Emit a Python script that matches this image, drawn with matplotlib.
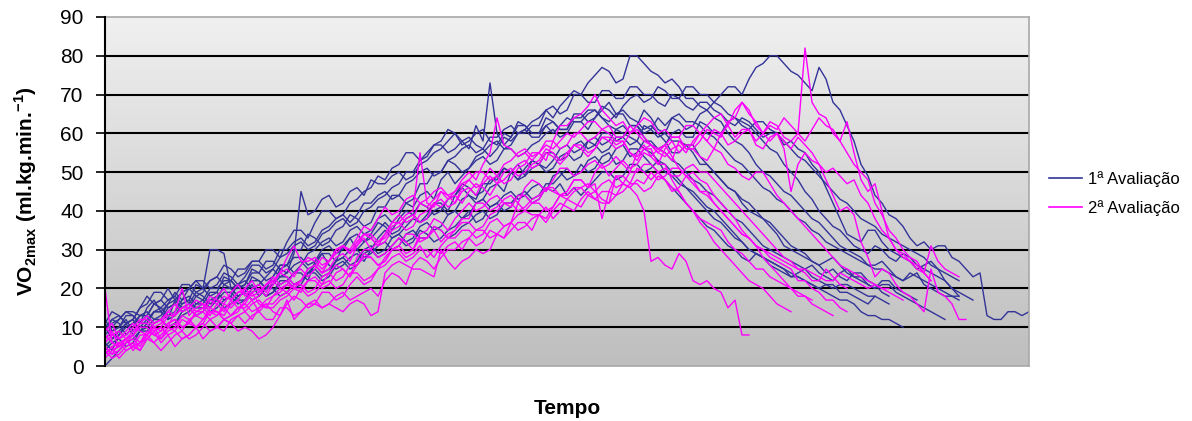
import numpy as np
import matplotlib
matplotlib.use("Agg")
import matplotlib.pyplot as plt
from matplotlib.colors import LinearSegmentedColormap
from matplotlib.lines import Line2D

plt.rcParams['font.family'] = ['Liberation Sans', 'DejaVu Sans']
plt.rcParams['mathtext.fontset'] = 'custom'
plt.rcParams['mathtext.rm'] = 'Liberation Sans'
plt.rcParams['mathtext.bf'] = 'Liberation Sans:bold'

# -----------------------------------------------------------------------------
# VO2 readings per sample (one list per subject)
blue_1 = [9, 12, 11, 8, 10, 13, 14, 12, 13, 16,
          17, 15, 16, 19, 18, 16, 17, 21, 20, 18,
          19, 23, 22, 20, 21, 25, 24, 26, 27, 25,
          26, 29, 29, 27, 31, 33, 30, 32, 34, 37,
          36, 34, 35, 38, 39, 42, 41, 39, 40, 43,
          44, 47, 46, 44, 45, 48, 48, 51, 50, 48,
          49, 53, 52, 50, 51, 54, 55, 53, 54, 58,
          57, 55, 56, 59, 59, 57, 58, 62, 61, 59,
          60, 64, 63, 61, 62, 65, 66, 68, 70, 72,
          72, 70, 74, 77, 78, 80, 80, 78, 76, 75,
          73, 71, 77, 74, 68, 66, 62, 58, 52, 49,
          44, 42, 39, 38, 36, 33, 31, 32, 30, 31,
          31, 28, 27, 25, 23, 24, 13, 12, 12, 14,
          14, 13, 14]
blue_2 = [6, 4, 8, 11, 12, 9, 11, 14, 15, 17,
          18, 16, 17, 21, 20, 18, 19, 23, 22, 20,
          21, 25, 24, 27, 27, 25, 26, 30, 30, 34,
          33, 31, 32, 35, 36, 39, 38, 36, 37, 41,
          41, 44, 44, 42, 43, 47, 47, 50, 50, 53,
          52, 50, 51, 54, 55, 57, 58, 56, 57, 60,
          60, 62, 62, 66, 64, 67, 69, 71, 70, 73,
          75, 77, 76, 73, 74, 80, 80, 78, 76, 75,
          73, 74, 72, 69, 69, 67, 66, 64, 63, 60,
          58, 57, 55, 52, 50, 49, 47, 45, 44, 42,
          40, 38, 37, 35, 33, 31, 30, 29, 28, 26,
          26, 27, 25, 23, 22, 23, 24, 21, 20, 19,
          18, 18, 17]
blue_3 = [11, 14, 13, 11, 12, 15, 16, 19, 19, 17,
          18, 21, 21, 19, 20, 22, 23, 26, 25, 23,
          24, 27, 27, 30, 30, 28, 32, 35, 35, 33,
          37, 40, 40, 38, 39, 42, 43, 45, 46, 49,
          48, 51, 52, 55, 55, 53, 54, 57, 57, 55,
          56, 58, 56, 62, 58, 73, 60, 57, 59, 63,
          62, 60, 60, 64, 63, 61, 61, 64, 64, 66,
          66, 64, 63, 65, 65, 62, 62, 66, 64, 61,
          60, 58, 58, 57, 55, 52, 52, 50, 48, 46,
          45, 42, 40, 39, 38, 36, 34, 31, 30, 29,
          28, 27, 26, 24, 25, 23, 22, 24, 24, 22,
          21, 19, 18]
blue_4 = [8, 10, 12, 14, 13, 11, 15, 17, 14, 16,
          19, 17, 20, 22, 20, 30, 30, 29, 20, 21,
          22, 20, 21, 23, 25, 23, 24, 29, 45, 39,
          40, 43, 44, 41, 42, 45, 46, 44, 48, 47,
          47, 49, 50, 48, 49, 52, 53, 55, 56, 58,
          60, 57, 58, 60, 61, 58, 57, 60, 59, 62,
          62, 60, 60, 62, 63, 61, 61, 65, 65, 63,
          64, 66, 68, 65, 66, 64, 63, 61, 62, 60,
          58, 55, 55, 57, 57, 54, 52, 50, 48, 46,
          45, 43, 42, 40, 38, 37, 35, 33, 31, 30,
          29, 27, 26, 27, 28, 26, 24, 23, 22, 21,
          20, 22, 22, 20, 19, 18, 17]
blue_5 = [0, 2, 4, 6, 7, 9, 9, 11, 12, 10,
          11, 14, 15, 13, 14, 17, 17, 15, 16, 18,
          19, 17, 18, 20, 20, 18, 19, 21, 22, 24,
          24, 22, 23, 26, 27, 25, 26, 29, 30, 28,
          29, 31, 33, 31, 32, 35, 34, 32, 33, 35,
          36, 38, 40, 37, 38, 41, 42, 40, 41, 44,
          45, 43, 44, 47, 47, 49, 51, 49, 50, 53,
          54, 52, 53, 56, 57, 54, 55, 58, 58, 56,
          57, 60, 61, 59, 59, 63, 62, 60, 60, 63,
          64, 62, 61, 63, 63, 61, 60, 57, 58, 56,
          55, 52, 50, 46, 42, 38, 34, 33, 32, 35,
          35, 32, 30, 29, 28, 27, 25, 26, 27, 25,
          22, 20, 19, 18, 17]
blue_6 = [10, 7, 8, 10, 11, 13, 13, 11, 12, 15,
          16, 14, 15, 18, 17, 15, 17, 19, 19, 17,
          17, 19, 20, 18, 19, 21, 22, 20, 21, 24,
          25, 23, 24, 27, 28, 26, 27, 30, 31, 29,
          30, 33, 34, 32, 33, 36, 37, 35, 36, 39,
          40, 38, 39, 42, 43, 41, 42, 44, 45, 43,
          44, 46, 47, 45, 49, 50, 48, 49, 52, 50,
          51, 54, 55, 52, 53, 56, 56, 54, 52, 50,
          48, 46, 44, 42, 40, 38, 36, 35, 33, 31,
          30, 28, 27, 29, 28, 26, 25, 24, 23, 23,
          22, 21, 20, 19, 18, 17, 17, 16, 14, 13,
          13, 12, 12, 11, 10]
blue_7 = [5, 7, 9, 11, 8, 10, 12, 14, 14, 12,
          13, 16, 17, 15, 16, 19, 19, 17, 18, 21,
          20, 22, 22, 20, 23, 26, 26, 28, 28, 26,
          27, 30, 31, 29, 30, 33, 34, 32, 33, 35,
          37, 35, 38, 40, 39, 37, 39, 42, 42, 40,
          44, 46, 44, 43, 47, 47, 49, 51, 50, 48,
          51, 53, 52, 51, 53, 56, 57, 55, 56, 58,
          59, 57, 58, 61, 62, 60, 62, 59, 57, 56,
          55, 53, 52, 50, 48, 47, 45, 44, 42, 40,
          38, 37, 35, 33, 31, 30, 29, 28, 27, 26,
          25, 26, 24, 23, 22, 24, 25, 23, 23, 21,
          20, 21, 21, 19, 18, 17, 16, 15, 14, 13,
          12]
blue_8 = [7, 9, 10, 12, 9, 11, 13, 16, 15, 13,
          14, 17, 18, 16, 17, 20, 20, 22, 22, 20,
          21, 24, 24, 22, 23, 26, 26, 24, 26, 29,
          30, 32, 33, 31, 32, 35, 36, 34, 35, 38,
          39, 37, 39, 42, 41, 44, 45, 43, 48, 50,
          47, 49, 51, 53, 54, 52, 53, 56, 56, 54,
          55, 57, 58, 60, 61, 59, 60, 63, 63, 61,
          64, 67, 66, 64, 67, 69, 70, 68, 69, 72,
          71, 69, 69, 72, 72, 70, 70, 68, 67, 65,
          64, 63, 62, 60, 58, 56, 55, 52, 50, 48,
          45, 43, 40, 38, 36, 35, 33, 31, 30, 29,
          31, 30, 28, 27, 29, 28, 26, 25, 24, 23,
          22, 20, 18]
blue_9 = [12, 9, 10, 13, 13, 11, 11, 14, 14, 12,
          17, 19, 16, 15, 15, 17, 18, 20, 20, 18,
          19, 21, 18, 20, 21, 23, 23, 21, 22, 24,
          26, 24, 25, 27, 28, 30, 30, 28, 29, 31,
          32, 30, 31, 34, 35, 33, 33, 36, 35, 33,
          34, 36, 37, 39, 40, 38, 39, 42, 42, 44,
          44, 42, 43, 46, 45, 47, 44, 46, 44, 46,
          48, 50, 50, 48, 49, 52, 52, 50, 51, 53,
          50, 49, 47, 46, 44, 42, 40, 38, 37, 35,
          33, 32, 30, 29, 28, 27, 26, 25, 24, 23,
          22, 21, 20, 21, 21, 19, 19, 18, 17, 16,
          18, 17, 16]
blue_10 = [9, 11, 12, 14, 14, 13, 13, 16, 17, 15,
           16, 19, 20, 22, 22, 20, 21, 24, 23, 21,
           23, 26, 26, 24, 25, 28, 29, 31, 32, 30,
           31, 34, 35, 37, 38, 36, 37, 40, 41, 43,
           44, 46, 47, 50, 50, 53, 55, 57, 58, 61,
           60, 58, 59, 57, 56, 54, 56, 59, 58, 60,
           61, 59, 59, 62, 60, 62, 64, 63, 63, 65,
           66, 64, 62, 61, 60, 59, 58, 56, 55, 53,
           52, 50, 48, 46, 45, 43, 41, 40, 38, 36,
           34, 32, 30, 29, 28, 27, 26, 25, 23, 24,
           25, 23, 22, 21, 20, 21, 21, 20, 19, 18,
           18]
blue_11 = [4, 6, 7, 5, 6, 9, 10, 12, 12, 10,
           11, 13, 14, 16, 16, 14, 15, 17, 18, 16,
           17, 20, 20, 18, 19, 22, 22, 24, 24, 22,
           27, 29, 26, 25, 26, 28, 29, 27, 30, 33,
           35, 33, 34, 36, 38, 37, 38, 40, 41, 39,
           40, 43, 44, 42, 43, 46, 47, 45, 50, 52,
           49, 51, 52, 55, 55, 53, 54, 57, 58, 56,
           57, 60, 60, 58, 59, 62, 62, 60, 61, 64,
           62, 64, 65, 63, 63, 62, 60, 59, 57, 55,
           53, 52, 50, 48, 46, 45, 43, 42, 40, 38,
           37, 35, 34, 32, 31, 30, 29, 28, 27, 26,
           25, 25, 24, 23, 22, 24, 23, 22, 21, 20,
           19, 18, 18]
blue_12 = [10, 12, 13, 11, 12, 15, 18, 16, 17, 20,
           17, 19, 20, 18, 19, 22, 23, 21, 22, 25,
           25, 27, 27, 25, 26, 30, 30, 32, 33, 31,
           32, 35, 36, 38, 39, 37, 39, 42, 42, 44,
           45, 43, 44, 47, 48, 50, 51, 49, 50, 53,
           54, 56, 57, 55, 56, 59, 59, 61, 62, 60,
           61, 63, 64, 66, 67, 65, 66, 70, 70, 68,
           68, 71, 71, 69, 69, 72, 72, 70, 70, 68,
           67, 70, 69, 67, 66, 68, 68, 66, 65, 63,
           62, 64, 63, 61, 59, 60, 60, 58, 56, 54,
           53, 51, 49, 47, 45, 43, 42, 40, 38, 37,
           36, 34, 33, 32, 31, 30, 29, 28, 26, 25,
           24, 23, 22]

magenta_1 = [3, 5, 6, 4, 5, 8, 8, 10, 7, 9,
             10, 13, 12, 10, 11, 14, 14, 12, 13, 15,
             15, 17, 14, 16, 16, 18, 19, 21, 21, 19,
             20, 23, 24, 22, 23, 26, 26, 28, 28, 26,
             27, 30, 31, 29, 30, 33, 33, 35, 32, 34,
             35, 37, 37, 35, 36, 39, 40, 42, 42, 40,
             41, 43, 44, 46, 46, 44, 45, 48, 48, 46,
             50, 52, 49, 51, 53, 51, 52, 55, 54, 52,
             56, 58, 55, 57, 57, 60, 58, 56, 60, 62,
             59, 61, 61, 58, 60, 63, 62, 59, 58, 60,
             82, 68, 65, 64, 60, 58, 63, 55, 48, 45,
             47, 40, 33, 30, 29, 27, 26, 24, 31, 27,
             25, 24, 23]
magenta_2 = [8, 6, 5, 7, 9, 11, 11, 9, 10, 13,
             13, 15, 15, 13, 14, 17, 16, 14, 17, 19,
             19, 17, 18, 21, 23, 21, 22, 20, 22, 25,
             26, 24, 25, 28, 29, 27, 31, 33, 30, 32,
             34, 37, 37, 35, 36, 39, 40, 42, 43, 41,
             42, 45, 46, 44, 48, 51, 49, 47, 48, 51,
             52, 55, 55, 53, 58, 62, 62, 64, 65, 67,
             70, 66, 64, 62, 63, 60, 62, 64, 63, 60,
             61, 59, 59, 62, 62, 60, 58, 61, 60, 57,
             58, 60, 61, 57, 56, 59, 60, 58, 56, 59,
             57, 55, 52, 48, 44, 40, 41, 39, 32, 28,
             23, 25, 24, 21, 19, 18, 16, 14, 25, 19,
             18, 16, 12, 12]
magenta_3 = [5, 3, 4, 6, 7, 5, 8, 10, 9, 11,
             12, 10, 11, 14, 15, 13, 16, 18, 17, 15,
             16, 19, 20, 18, 21, 24, 23, 21, 22, 25,
             26, 24, 27, 30, 31, 29, 32, 34, 33, 31,
             32, 35, 36, 38, 39, 37, 38, 42, 41, 43,
             44, 42, 45, 47, 46, 44, 47, 50, 51, 49,
             50, 52, 53, 56, 55, 53, 55, 57, 57, 55,
             56, 59, 59, 57, 58, 55, 53, 56, 57, 55,
             54, 56, 57, 55, 58, 60, 62, 64, 65, 62,
             66, 68, 65, 63, 60, 62, 61, 64, 62, 60,
             58, 61, 64, 62, 61, 58, 55, 52, 50, 48,
             42, 39, 35, 33, 30, 28, 27, 24, 22]
magenta_4 = [20, 6, 5, 7, 4, 6, 7, 9, 6, 8,
             5, 7, 8, 10, 7, 9, 10, 12, 11, 9,
             10, 9, 7, 8, 10, 13, 17, 12, 14, 16,
             16, 15, 16, 15, 14, 16, 17, 16, 13, 14,
             24, 26, 27, 26, 25, 25, 24, 23, 30, 27,
             25, 27, 28, 30, 29, 30, 34, 33, 37, 42,
             40, 39, 39, 38, 41, 44, 43, 45, 46, 47,
             45, 43, 42, 49, 47, 46, 44, 40, 27, 28,
             26, 25, 29, 27, 22, 21, 22, 20, 19, 15,
             17, 8, 8]
magenta_5 = [6, 8, 9, 7, 8, 11, 13, 11, 12, 14,
             13, 15, 16, 14, 15, 18, 17, 16, 19, 21,
             18, 20, 21, 19, 22, 24, 25, 23, 26, 28,
             27, 25, 27, 30, 31, 29, 32, 34, 33, 31,
             34, 37, 39, 37, 38, 42, 41, 43, 45, 43,
             45, 48, 50, 48, 52, 55, 64, 57, 56, 54,
             55, 53, 55, 57, 56, 58, 60, 59, 61, 63,
             63, 61, 60, 58, 58, 55, 54, 56, 56, 52,
             52, 48, 45, 42, 40, 38, 37, 36, 35, 32,
             30, 29, 27, 25, 25, 23, 22, 21, 20, 18,
             18, 17]
magenta_6 = [2, 4, 5, 7, 8, 6, 9, 8, 7, 10,
             11, 9, 12, 13, 12, 15, 14, 13, 16, 17,
             14, 16, 17, 15, 18, 19, 21, 20, 19, 22,
             23, 21, 24, 26, 25, 23, 28, 30, 30, 28,
             29, 31, 33, 32, 30, 34, 35, 38, 37, 35,
             38, 40, 42, 40, 41, 43, 44, 42, 41, 44,
             44, 42, 43, 46, 45, 44, 45, 48, 48, 46,
             47, 38, 45, 49, 49, 47, 51, 50, 48, 50,
             48, 45, 46, 49, 48, 45, 45, 42, 40, 38,
             36, 34, 33, 31, 30, 28, 27, 26, 25, 22,
             22, 20, 19, 17, 17, 15, 14]
magenta_7 = [4, 2, 3, 5, 6, 4, 7, 9, 10, 8,
             9, 12, 11, 10, 12, 14, 14, 12, 13, 15,
             16, 14, 15, 17, 18, 20, 19, 17, 20, 22,
             22, 20, 21, 24, 25, 23, 26, 29, 28, 26,
             27, 30, 31, 34, 34, 32, 33, 36, 35, 33,
             35, 38, 38, 42, 42, 40, 41, 43, 44, 42,
             46, 48, 47, 45, 48, 51, 51, 49, 50, 52,
             53, 51, 52, 54, 52, 50, 55, 57, 54, 56,
             55, 53, 58, 56, 56, 54, 53, 56, 55, 52,
             51, 49, 48, 50, 50, 47, 44, 42, 40, 38,
             36, 34, 32, 30, 28, 26, 25, 24, 23, 22,
             21, 20, 19, 18, 17]
magenta_8 = [7, 9, 5, 6, 8, 10, 10, 8, 9, 11,
             12, 10, 11, 14, 14, 12, 13, 15, 13, 14,
             17, 19, 16, 15, 15, 17, 18, 20, 20, 18,
             19, 21, 22, 20, 21, 24, 24, 22, 23, 25,
             26, 28, 29, 27, 28, 30, 30, 28, 31, 33,
             33, 35, 35, 33, 34, 37, 38, 36, 37, 39,
             40, 42, 42, 40, 41, 44, 44, 46, 46, 44,
             45, 47, 48, 46, 47, 50, 50, 52, 52, 50,
             51, 49, 49, 51, 52, 50, 50, 48, 46, 44,
             42, 40, 38, 36, 34, 32, 30, 28, 27, 25,
             24, 22, 22, 25, 23, 21, 20]
magenta_9 = [9, 11, 7, 8, 10, 12, 12, 10, 11, 14,
             16, 14, 15, 17, 16, 15, 18, 20, 17, 19,
             20, 22, 19, 21, 22, 24, 28, 31, 27, 27,
             28, 26, 27, 30, 31, 29, 31, 34, 34, 32,
             33, 36, 37, 39, 40, 55, 42, 41, 45, 44,
             42, 46, 48, 46, 47, 49, 47, 48, 50, 52,
             53, 51, 52, 55, 54, 52, 54, 57, 56, 54,
             56, 59, 58, 56, 57, 60, 61, 59, 57, 56,
             57, 59, 59, 56, 56, 58, 61, 60, 59, 63,
             64, 68, 66, 62, 60, 58, 60, 56, 45, 52,
             55, 53, 52, 50, 51, 49, 47, 48, 44, 42,
             38, 35, 33, 30, 28, 27, 25, 24, 22]
magenta_10 = [3, 5, 2, 4, 5, 4, 7, 6, 8, 10,
              9, 7, 8, 10, 11, 9, 10, 12, 11, 13,
              14, 12, 15, 16, 14, 13, 16, 18, 17, 15,
              16, 19, 19, 17, 18, 21, 23, 21, 22, 25,
              28, 30, 30, 28, 29, 31, 28, 30, 29, 31,
              32, 30, 33, 35, 35, 33, 34, 36, 37, 35,
              36, 38, 39, 37, 40, 42, 41, 40, 43, 45,
              43, 42, 42, 44, 45, 47, 47, 45, 46, 49,
              48, 46, 45, 42, 40, 37, 35, 32, 30, 28,
              26, 24, 22, 21, 20, 18, 16, 15, 14]
magenta_11 = [10, 8, 7, 9, 11, 9, 8, 11, 12, 10,
              14, 20, 13, 15, 16, 14, 13, 16, 15, 17,
              20, 18, 19, 21, 22, 20, 21, 24, 25, 23,
              25, 28, 27, 29, 31, 30, 33, 36, 35, 38,
              41, 39, 40, 43, 44, 42, 43, 45, 46, 44,
              45, 47, 48, 50, 50, 48, 49, 52, 53, 55,
              56, 54, 55, 58, 58, 56, 57, 60, 60, 58,
              59, 61, 62, 59, 59, 62, 60, 58, 57, 55,
              57, 54, 51, 49, 47, 45, 44, 42, 40, 38,
              36, 34, 33, 31, 30, 29, 28, 27, 26, 25,
              25, 24, 23, 22, 22, 24, 23, 22, 21, 20,
              21, 20, 20]
magenta_12 = [5, 3, 6, 7, 5, 6, 8, 6, 4, 6,
              8, 9, 7, 8, 10, 12, 10, 9, 12, 13,
              11, 13, 14, 12, 12, 15, 15, 13, 14, 16,
              17, 15, 16, 18, 19, 17, 18, 19, 20, 18,
              22, 24, 23, 21, 26, 28, 27, 25, 28, 30,
              30, 32, 33, 31, 32, 35, 34, 33, 35, 37,
              37, 35, 39, 41, 38, 40, 43, 42, 41, 44,
              43, 45, 45, 44, 47, 46, 48, 47, 50, 48,
              49, 51, 51, 49, 50, 48, 47, 44, 42, 40,
              38, 35, 33, 31, 28, 26, 24, 22, 20, 19,
              18, 16, 15, 14, 13]

blue_series = [blue_1, blue_2, blue_3, blue_4, blue_5, blue_6,
               blue_7, blue_8, blue_9, blue_10, blue_11, blue_12]
magenta_series = [magenta_1, magenta_2, magenta_3, magenta_4, magenta_5, magenta_6,
                  magenta_7, magenta_8, magenta_9, magenta_10, magenta_11, magenta_12]
labels = ['1ª Avaliação', '2ª Avaliação']
yticks = [0, 10, 20, 30, 40, 50, 60, 70, 80, 90]

c_blue = '#333399'
c_mag = '#ff00ff'

# -----------------------------------------------------------------------------
fig = plt.figure(figsize=(11.92, 4.21), dpi=100)
ax = fig.add_axes([105 / 1192, 55 / 421, 924 / 1192, 349 / 421])

# grey gradient background of the plot area
bg = LinearSegmentedColormap.from_list('bg', ['#bebebe', '#f0f0f0'])
grad = np.linspace(0, 1, 256).reshape(-1, 1)
ax.imshow(grad, cmap=bg, aspect='auto', extent=[0, 1, 0, 1],
          transform=ax.transAxes, origin='lower', zorder=0)

for y in yticks[1:-1]:
    ax.axhline(y, color='black', lw=1.5, zorder=1)

for vals in blue_series:
    ax.plot(np.arange(len(vals)), vals, color=c_blue, lw=1.0, zorder=2)
for vals in magenta_series:
    ax.plot(np.arange(len(vals)), vals, color=c_mag, lw=1.0, zorder=3)

n_max = max(len(v) for v in blue_series + magenta_series)
ax.set_xlim(0, n_max - 1)
ax.set_ylim(0, 90)
ax.set_xticks([])
ax.set_yticks(yticks)
ax.tick_params(axis='y', length=6.5, width=1.2, pad=9, labelsize=15)

for side in ['top', 'right', 'bottom']:
    ax.spines[side].set_color('#a8a8a8')
    ax.spines[side].set_linewidth(1.2)
ax.spines['left'].set_linewidth(1.5)
ax.spines['left'].set_zorder(5)

ax.set_ylabel(r'VO$_{\mathbf{2max}}$ (ml.kg.min.$^{\mathbf{-1}}$)',
              fontsize=15, fontweight='bold')
ax.yaxis.set_label_coords(-66 / 924, 0.5)
ax.set_xlabel('Tempo', fontsize=15, fontweight='bold', labelpad=24)

handles = [Line2D([], [], color=c_blue, lw=1.2), Line2D([], [], color=c_mag, lw=1.2)]
fig.legend(handles, labels, loc='upper left', bbox_to_anchor=(1049 / 1192, 1 - 171 / 421),
           frameon=False, fontsize=12, handlelength=2.0, handletextpad=0.35,
           labelspacing=0.8, borderpad=0, borderaxespad=0)

plt.savefig('out.png', dpi=100)
plt.close()
